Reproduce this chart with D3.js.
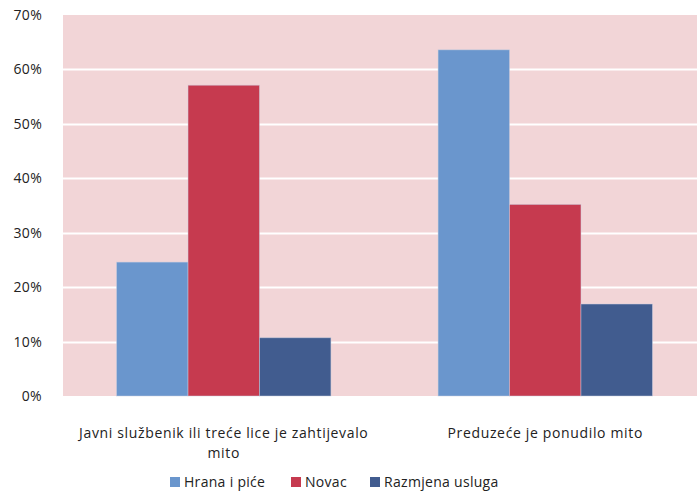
<!DOCTYPE html>
<html>
<head>
<meta charset="utf-8">
<script src="https://cdn.jsdelivr.net/npm/d3@7"></script>
<style>
  html, body { margin: 0; padding: 0; background: #ffffff; }
  svg { display: block; font-family: "Open Sans", "DejaVu Sans", sans-serif; }
</style>
</head>
<body>
<svg id="chart" width="697" height="492"></svg>
<script>
// Bribe types by who initiated the bribe (share of cases)
const categories = [
  ["Javni službenik ili treće lice je zahtijevalo", "mito"],
  ["Preduzeće je ponudilo mito"]
];
const seriesNames = ["Hrana i piće", "Novac", "Razmjena usluga"];
const hranaIPice = [0.246, 0.636];
const novac = [0.571, 0.352];
const razmjenaUsluga = [0.107, 0.169];
const yTicks = [0, 0.1, 0.2, 0.3, 0.4, 0.5, 0.6, 0.7];
const colors = ["#6a96cd", "#c63a4f", "#415c8f"];

const seriesValues = [hranaIPice, novac, razmjenaUsluga];

const svg = d3.select("#chart");
const plot = { left: 63, right: 706, top: 15, bottom: 396 };

const x0 = d3.scaleBand()
  .domain(d3.range(categories.length))
  .range([plot.left, plot.right])
  .paddingInner(0)
  .paddingOuter(0);

// three bars per group, 1.5 bar widths of gap between groups
const x1 = d3.scaleBand()
  .domain(d3.range(seriesNames.length))
  .range([0, x0.bandwidth()])
  .paddingInner(0)
  .paddingOuter(0.75);

const y = d3.scaleLinear().domain([0, 0.7]).range([plot.bottom, plot.top]);

// plot background
svg.append("rect")
  .attr("x", plot.left).attr("y", plot.top)
  .attr("width", plot.right - plot.left).attr("height", plot.bottom - plot.top)
  .attr("fill", "#f2d5d7");

// gridlines
svg.append("g").selectAll("line")
  .data(yTicks.filter(d => d > 0 && d < 0.7))
  .join("line")
  .attr("x1", plot.left).attr("x2", plot.right)
  .attr("y1", d => Math.round(y(d)) + 0.5).attr("y2", d => Math.round(y(d)) + 0.5)
  .attr("stroke", "#ffffff").attr("stroke-width", 2);

// y axis labels
const yAxis = d3.axisLeft(y)
  .tickValues(yTicks)
  .tickFormat(d3.format(".0%"))
  .tickSize(0)
  .tickPadding(0);
const yg = svg.append("g").attr("transform", `translate(42,0)`).call(yAxis);
yg.select(".domain").remove();
yg.selectAll("text")
  .attr("font-size", 14)
  .attr("fill", "#222")
  .attr("letter-spacing", 0.3)
  .attr("font-family", "'Open Sans', sans-serif");

// bars
const groups = svg.append("g").selectAll("g")
  .data(categories.map((c, i) => i))
  .join("g")
  .attr("transform", i => `translate(${x0(i)},0)`);

groups.selectAll("rect")
  .data(i => seriesValues.map((vals, s) => ({ s, v: vals[i] })))
  .join("rect")
  .attr("x", d => x1(d.s))
  .attr("width", x1.bandwidth())
  .attr("y", d => y(d.v))
  .attr("height", d => y(0) - y(d.v))
  .attr("fill", d => colors[d.s])
  .attr("stroke", "#c9cfe0")
  .attr("stroke-opacity", 0.6)
  .attr("stroke-width", 0.8);

// category labels
const catG = svg.append("g");
categories.forEach((lines, i) => {
  const cx = x0(i) + x0.bandwidth() / 2;
  const t = catG.append("text")
    .attr("x", cx)
    .attr("y", 438)
    .attr("text-anchor", "middle")
    .attr("font-size", 14)
    .attr("letter-spacing", 0.65)
    .attr("fill", "#222");
  lines.forEach((ln, k) => {
    t.append("tspan").attr("x", cx).attr("dy", k === 0 ? 0 : 20).text(ln);
  });
});

// legend
const legendX = [170, 291, 370];
const lg = svg.append("g");
seriesNames.forEach((name, s) => {
  lg.append("rect")
    .attr("x", legendX[s]).attr("y", 477)
    .attr("width", 10).attr("height", 10)
    .attr("fill", colors[s]);
  lg.append("text")
    .attr("x", legendX[s] + 14).attr("y", 487)
    .attr("font-size", 14)
    .attr("letter-spacing", 0.3)
    .attr("fill", "#222")
    .text(name);
});
</script>
</body>
</html>
